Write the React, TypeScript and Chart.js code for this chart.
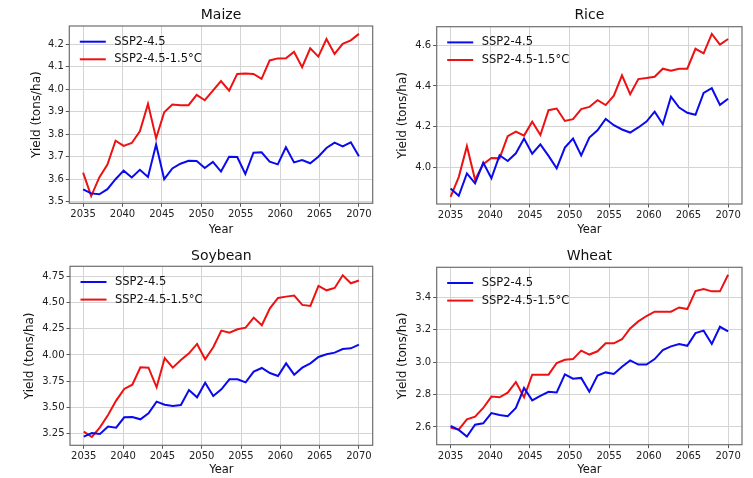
import React, { useEffect, useRef } from "react";
import { Chart, registerables } from "chart.js";

Chart.register(...registerables);
Chart.defaults.font.family = "'DejaVu Sans', sans-serif";

// ---- data ----
const xTickYears = [2035, 2040, 2045, 2050, 2055, 2060, 2065, 2070];
const POINTS = 35;
// the source plots 35 yearly values evenly spread between 2035 and 2070
const years = Array.from({ length: POINTS }, (_, i) => 2035 + (i * 35) / (POINTS - 1));
const seriesLabels = ["SSP2-4.5", "SSP2-4.5-1.5°C"];
const seriesColors = ["#0a0aee", "#ee1111"];

const maizeBase = [3.555, 3.537, 3.533, 3.556, 3.6, 3.638, 3.608, 3.642, 3.61, 3.754, 3.6, 3.648, 3.669, 3.682, 3.681, 3.65, 3.677, 3.634, 3.7, 3.699, 3.623, 3.718, 3.72, 3.678, 3.666, 3.742, 3.675, 3.685, 3.671, 3.7, 3.739, 3.763, 3.746, 3.764, 3.702];
const maizeLow = [3.629, 3.525, 3.608, 3.665, 3.771, 3.748, 3.761, 3.813, 3.935, 3.782, 3.898, 3.932, 3.929, 3.929, 3.975, 3.951, 3.994, 4.036, 3.994, 4.068, 4.07, 4.068, 4.046, 4.128, 4.137, 4.138, 4.166, 4.098, 4.182, 4.145, 4.223, 4.157, 4.202, 4.217, 4.246];
const riceBase = [3.896, 3.86, 3.97, 3.921, 4.023, 3.946, 4.059, 4.031, 4.069, 4.141, 4.067, 4.113, 4.056, 3.995, 4.097, 4.141, 4.058, 4.146, 4.182, 4.238, 4.207, 4.186, 4.171, 4.196, 4.225, 4.274, 4.212, 4.347, 4.294, 4.268, 4.258, 4.366, 4.389, 4.307, 4.337];
const riceLow = [3.854, 3.952, 4.104, 3.939, 4.015, 4.046, 4.044, 4.153, 4.176, 4.156, 4.224, 4.159, 4.281, 4.289, 4.228, 4.237, 4.286, 4.297, 4.33, 4.306, 4.352, 4.452, 4.36, 4.434, 4.439, 4.445, 4.485, 4.475, 4.485, 4.485, 4.583, 4.56, 4.656, 4.603, 4.631];
const soyBase = [3.221, 3.256, 3.247, 3.317, 3.307, 3.406, 3.409, 3.387, 3.444, 3.555, 3.526, 3.514, 3.523, 3.666, 3.596, 3.736, 3.609, 3.672, 3.768, 3.768, 3.739, 3.841, 3.876, 3.828, 3.8, 3.92, 3.812, 3.879, 3.92, 3.981, 4.006, 4.022, 4.057, 4.063, 4.098];
const soyLow = [3.269, 3.218, 3.31, 3.428, 3.565, 3.676, 3.717, 3.882, 3.879, 3.692, 3.971, 3.879, 3.952, 4.016, 4.105, 3.959, 4.073, 4.232, 4.213, 4.245, 4.26, 4.356, 4.283, 4.445, 4.543, 4.556, 4.566, 4.477, 4.467, 4.658, 4.616, 4.639, 4.76, 4.683, 4.709];
const wheatBase = [2.606, 2.582, 2.541, 2.614, 2.623, 2.686, 2.674, 2.666, 2.717, 2.84, 2.764, 2.791, 2.817, 2.813, 2.924, 2.897, 2.902, 2.817, 2.916, 2.936, 2.926, 2.971, 3.01, 2.984, 2.984, 3.018, 3.074, 3.096, 3.111, 3.1, 3.178, 3.193, 3.111, 3.217, 3.189];
const wheatLow = [2.596, 2.584, 2.647, 2.664, 2.717, 2.787, 2.783, 2.811, 2.877, 2.783, 2.922, 2.922, 2.922, 2.994, 3.014, 3.018, 3.07, 3.046, 3.066, 3.115, 3.115, 3.14, 3.207, 3.25, 3.283, 3.31, 3.31, 3.31, 3.336, 3.326, 3.437, 3.449, 3.435, 3.435, 3.537];

const maizeYTicks = [3.5, 3.6, 3.7, 3.8, 3.9, 4.0, 4.1, 4.2];
const riceYTicks = [4.0, 4.2, 4.4, 4.6];
const soyYTicks = [3.25, 3.5, 3.75, 4.0, 4.25, 4.5, 4.75];
const wheatYTicks = [2.6, 2.8, 3.0, 3.2, 3.4];

type PanelProps = {
  title: string;
  base: number[];
  low: number[];
  yTicks: number[];
  decimals: number;
  yMin: number;
  yMax: number;
  w: number;
  h: number;
  x: number;
  y: number;
  area: { left: number; right: number; top: number; bottom: number };
  titleTop: number;
  yTitleOff: number;
  xTitleOff: number;
};

const framePlugin = {
  id: "frame",
  afterDatasetsDraw(chart: any) {
    const { ctx, chartArea: a } = chart;
    ctx.save();
    ctx.strokeStyle = "#6e6e6e";
    ctx.lineWidth = 1.2;
    ctx.strokeRect(a.left, a.top, a.right - a.left, a.bottom - a.top);
    ctx.restore();
  },
};

const insideLegend = {
  id: "insideLegend",
  afterDraw(chart: any) {
    const { ctx, chartArea: a } = chart;
    ctx.save();
    chart.data.datasets.forEach((ds: any, i: number) => {
      const yy = a.top + 15.7 + i * 17.6;
      ctx.strokeStyle = ds.borderColor;
      ctx.lineWidth = 2;
      ctx.beginPath();
      ctx.moveTo(a.left + 10.5, yy);
      ctx.lineTo(a.left + 36.5, yy);
      ctx.stroke();
      ctx.fillStyle = "#111";
      ctx.font = "11.5px 'DejaVu Sans', sans-serif";
      ctx.textBaseline = "middle";
      ctx.textAlign = "left";
      ctx.fillText(ds.label, a.left + 45, yy);
    });
    ctx.restore();
  },
};

function Panel(p: PanelProps) {
  const ref = useRef<HTMLCanvasElement | null>(null);
  useEffect(() => {
    if (!ref.current) return;
    const mk = (vals: number[]) => vals.map((v, i) => ({ x: years[i], y: v }));
    const chart = new Chart(ref.current, {
      type: "line",
      data: {
        datasets: [
          { label: seriesLabels[0], data: mk(p.base), borderColor: seriesColors[0], backgroundColor: seriesColors[0], borderWidth: 2, pointRadius: 0, tension: 0, fill: false },
          { label: seriesLabels[1], data: mk(p.low), borderColor: seriesColors[1], backgroundColor: seriesColors[1], borderWidth: 2, pointRadius: 0, tension: 0, fill: false },
        ],
      },
      options: {
        animation: false,
        responsive: false,
        events: [],
        layout: { autoPadding: false, padding: { left: 0, top: 0, bottom: 0, right: p.w - p.area.right } } as any,
        plugins: {
          legend: { display: false },
          tooltip: { enabled: false },
          title: {
            display: true,
            text: p.title,
            fullSize: false,
            color: "#111",
            font: { size: 14, weight: "normal", lineHeight: 1.2 },
            padding: { top: p.titleTop, bottom: p.area.top - p.titleTop - 16.8 },
          },
        },
        scales: {
          x: {
            type: "linear",
            min: 2033.25,
            max: 2071.75,
            afterBuildTicks: (s: any) => {
              s.ticks = xTickYears.map((v) => ({ value: v }));
            },
            afterFit: (s: any) => {
              s.height = p.h - p.area.bottom;
            },
            ticks: { color: "#222", font: { size: 10 }, padding: 2, maxRotation: 0, callback: (v: any) => String(v) },
            grid: { color: "#d4d4d4", lineWidth: 1, tickColor: "#555", tickLength: 3.5, drawTicks: true },
            border: { display: false },
            title: { display: true, text: "Year", color: "#111", font: { size: 11.5, lineHeight: 1.2 }, padding: { top: 0, bottom: p.xTitleOff } },
          },
          y: {
            type: "linear",
            min: p.yMin,
            max: p.yMax,
            afterBuildTicks: (s: any) => {
              s.ticks = p.yTicks.map((v) => ({ value: v }));
            },
            afterFit: (s: any) => {
              s.width = p.area.left;
            },
            ticks: { color: "#222", font: { size: 10 }, padding: 2, callback: (v: any) => Number(v).toFixed(p.decimals) },
            grid: { color: "#d4d4d4", lineWidth: 1, tickColor: "#555", tickLength: 3.5, drawTicks: true },
            border: { display: false },
            title: { display: true, text: "Yield (tons/ha)", color: "#111", font: { size: 12, lineHeight: 1.2 }, padding: { top: p.yTitleOff, bottom: 0 } },
          },
        },
      },
      plugins: [framePlugin, insideLegend],
    } as any);
    return () => chart.destroy();
  }, []);
  return (
    <canvas
      ref={ref}
      width={p.w}
      height={p.h}
      style={{ position: "absolute", left: p.x, top: p.y, width: p.w, height: p.h }}
    />
  );
}

export default function App() {
  return (
    <div style={{ position: "absolute", left: 0, top: 0, width: 753, height: 478, background: "#fff", overflow: "hidden" }}>
      <Panel title="Maize" base={maizeBase} low={maizeLow} yTicks={maizeYTicks} decimals={1} yMin={3.493} yMax={4.281}
        x={0} y={0} w={376} h={238} area={{ left: 69.3, right: 372.7, top: 26, bottom: 203.3 }} titleTop={6.6} yTitleOff={29.8} xTitleOff={1.1} />
      <Panel title="Rice" base={riceBase} low={riceLow} yTicks={riceYTicks} decimals={1} yMin={3.8195} yMax={4.6915}
        x={376} y={0} w={377} h={238} area={{ left: 60.7, right: 366, top: 26.7, bottom: 204 }} titleTop={6.6} yTitleOff={19.8} xTitleOff={1.1} />
      <Panel title="Soybean" base={soyBase} low={soyLow} yTicks={soyYTicks} decimals={2} yMin={3.139} yMax={4.845}
        x={0} y={238} w={376} h={240} area={{ left: 70, right: 372.7, top: 28.3, bottom: 207.3 }} titleTop={9.9} yTitleOff={22.8} xTitleOff={0.8} />
      <Panel title="Wheat" base={wheatBase} low={wheatLow} yTicks={wheatYTicks} decimals={1} yMin={2.491} yMax={3.583}
        x={376} y={238} w={377} h={240} area={{ left: 60.7, right: 366, top: 29.3, bottom: 206.7 }} titleTop={9.9} yTitleOff={19.8} xTitleOff={0.8} />
    </div>
  );
}
